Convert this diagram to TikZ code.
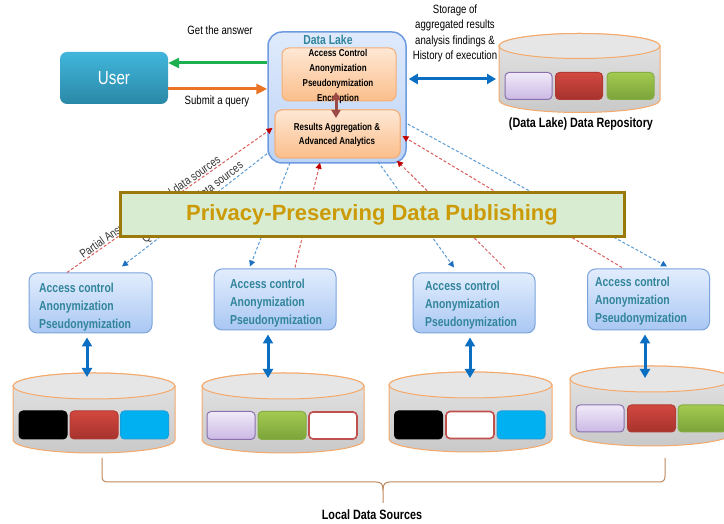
\documentclass[tikz,border=0pt]{standalone}
\usepackage{fontspec}
\setmainfont{Liberation Sans}
\newfontfamily\cf[FakeStretch=0.8]{Liberation Sans}
\usetikzlibrary{arrows.meta,calc}
\definecolor{uT}{HTML}{41B6DC}
\definecolor{uB}{HTML}{2A88A6}
\definecolor{dlT}{HTML}{DFEAFC}
\definecolor{dlB}{HTML}{BCD3F6}
\definecolor{dlD}{HTML}{6E9BE0}
\definecolor{lbT}{HTML}{E2EDFD}
\definecolor{lbB}{HTML}{A9C7F3}
\definecolor{lbD}{HTML}{7BA4DC}
\definecolor{orT}{HTML}{FEE8D6}
\definecolor{orB}{HTML}{FBBE8A}
\definecolor{orD}{HTML}{F5AE78}
\definecolor{teal}{HTML}{31859B}
\definecolor{cylT}{HTML}{E4E4E4}
\definecolor{cylB}{HTML}{C9C9C9}
\definecolor{cylTop}{HTML}{E6E6E6}
\definecolor{cylL}{HTML}{F4A96B}
\definecolor{redT}{HTML}{D2483F}
\definecolor{redB}{HTML}{A6332D}
\definecolor{redD}{HTML}{B03A33}
\definecolor{cyanF}{HTML}{00B0F0}
\definecolor{cyanD}{HTML}{1A9FDB}
\definecolor{lavT}{HTML}{F0EAF9}
\definecolor{lavB}{HTML}{CBB8E4}
\definecolor{lavD}{HTML}{8A70AD}
\definecolor{grT}{HTML}{A3CA50}
\definecolor{grB}{HTML}{7AA33A}
\definecolor{grD}{HTML}{86AD44}
\definecolor{whD}{HTML}{C0504D}
\definecolor{bannerF}{HTML}{D7ECD0}
\definecolor{bannerD}{HTML}{9B7A0B}
\definecolor{gold}{HTML}{CC9A06}
\definecolor{agreen}{HTML}{1DB050}
\definecolor{aorange}{HTML}{EB7324}
\definecolor{ablue}{HTML}{0A6FC2}
\definecolor{adred}{HTML}{9C4A45}
\definecolor{dashred}{HTML}{DB5C5C}
\definecolor{dashblue}{HTML}{5B9BD5}
\definecolor{tipred}{HTML}{C00000}
\definecolor{tipblue}{HTML}{1F6FC0}
\definecolor{braceC}{HTML}{C08A5E}
\newcommand\drawcyl[5]{%
  \path[draw=cylL, line width=1, top color=cylT, bottom color=cylB]
    ({#1-#2},#3) -- ({#1-#2},#4)
    arc[start angle=180, end angle=360, x radius=#2, y radius=#5]
    -- ({#1+#2},#3)
    arc[start angle=0, end angle=180, x radius=#2, y radius=#5] -- cycle;
  \path[draw=cylL, line width=1, fill=cylTop] (#1,#3) ellipse[x radius=#2, y radius=#5];
}
\tikzset{
  txt/.style={font=\cf\fontsize{12}{15.5}\selectfont, align=center, inner sep=1},
  boldtxt/.style={font=\cf\bfseries\fontsize{13.5}{16}\selectfont, inner sep=1},
  userbox/.style={rounded corners=7, minimum width=108, minimum height=52, top color=uT, bottom color=uB, text=white, font=\cf\fontsize{19}{22}\selectfont},
  dlbox/.style={rounded corners=14, minimum width=138, minimum height=131, top color=dlT, bottom color=dlB, draw=dlD, line width=1.5},
  orbox/.style={rounded corners=7, top color=orT, bottom color=orB, draw=orD, line width=1},
  intext/.style={font=\cf\bfseries\fontsize{10}{15}\selectfont, align=center, inner sep=0},
  lowbox/.style={rounded corners=8, minimum width=122, minimum height=61, top color=lbT, bottom color=lbB, draw=lbD, line width=1},
  lowtext/.style={font=\cf\bfseries\fontsize{13}{18}\selectfont, text=teal, align=left, inner sep=0, anchor=west},
  chip/.style={minimum width=47, minimum height=27, rounded corners=4, inner sep=0, line width=1},
  cblack/.style={chip, fill=black, draw=black},
  cred/.style={chip, top color=redT, bottom color=redB, draw=redD},
  ccyan/.style={chip, fill=cyanF, draw=cyanD},
  clav/.style={chip, top color=lavT, bottom color=lavB, draw=lavD},
  cgreen/.style={chip, top color=grT, bottom color=grB, draw=grD},
  cwhite/.style={chip, fill=white, draw=whD, line width=1.6},
  bigarrow/.style={line width=3, -{Triangle[length=11, width=10]}},
  bluedbl/.style={line width=3, draw=ablue, {Triangle[length=9, width=10]}-{Triangle[length=9, width=10]}},
  reddash/.style={draw=dashred, line width=1, dash pattern=on 3 off 2, -{Triangle[length=6, width=6, color=tipred]}},
  bluedash/.style={draw=dashblue, line width=1, dash pattern=on 3 off 2, -{Triangle[length=6, width=6, color=tipblue]}},
  bluedashr/.style={draw=dashblue, line width=1, dash pattern=on 3 off 2, {Triangle[length=6, width=6, color=tipblue]}-},
  banner/.style={minimum width=504, minimum height=44, fill=bannerF, draw=bannerD, line width=3, text=gold, font=\bfseries\fontsize{22}{26}\selectfont},
}
\begin{document}
\begin{tikzpicture}[x=1pt, y=1pt]
\useasboundingbox (0,0) rectangle (724,524);
\clip (0,0) rectangle (724,524);
\fill[white] (0,0) rectangle (724,524);

% user
\node[userbox] (user) at (114,446) {User};

% data lake
\node[dlbox] (dl) at (337,426.5) {};
\node[font=\cf\bfseries\fontsize{13}{15}\selectfont, text=teal, inner sep=0] (dlt) at (328,484) {Data Lake};

% lower boxes
\node[lowbox, minimum width=123, minimum height=60] (b1) at (90.5,221) {};
\node[lowbox] (b2) at (275,224.5) {};
\node[lowbox, minimum height=60] (b3) at (474,221) {};
\node[lowbox] (b4) at (648.5,224.5) {};
\node[lowtext] (b1t) at (39,216.5) {Access control\\Anonymization\\Pseudonymization};
\node[lowtext] (b2t) at (230,221) {Access control\\Anonymization\\Pseudonymization};
\node[lowtext] (b3t) at (425,218.5) {Access control\\Anonymization\\Pseudonymization};
\node[lowtext] (b4t) at (595,222.5) {Access control\\Anonymization\\Pseudonymization};

% inner boxes of the data lake (positions only, drawn below after dashed lines)
\node[orbox, minimum width=125, minimum height=48] (ib2) at (337.5,390) {};

% dashed connectors
\draw[reddash] ([xshift=-23.5]b1.north) -- ([shift={(-2,6)}]ib2.west)
  node[pos=0.42, sloped, above, txt, text=black!80] (lbl1) {Partial Answers from local data sources};
\draw[bluedashr] ([shift={(31.5,6)}]b1.north) -- ([shift={(2,-54.5)}]dl.west)
  node[pos=0.51, sloped, above, txt, text=black!80] (lbl2) {Queries to local data sources};
\draw[bluedash] ([shift={(-47,1)}]dl.south) -- ([shift={(-25,2)}]b2.north);
\draw[reddash] ([shift={(20,1)}]b2.north) -- ([shift={(-17,1)}]dl.south);
\draw[bluedash] ([shift={(41,2)}]dl.south) -- ([shift={(-20,5)}]b3.north);
\draw[reddash] ([shift={(31,4)}]b3.north) -- ([shift={(60,3)}]dl.south);
\draw[reddash] ([shift={(-26.5,1)}]b4.north) -- ([shift={(2,-2)}]ib2.east);
\draw[bluedash] ([shift={(1,-26.5)}]dl.east) -- ([shift={(18.5,2)}]b4.north);

% inner boxes
\node[orbox, minimum width=125, minimum height=48] (ib2b) at (337.5,390) {};
\node[orbox, minimum width=114, minimum height=53] (ib1) at (339,449.5) {};
\node[intext] (ib1t) at (338,448) {Access Control\\Anonymization\\Pseudonymization\\Encryption};
\node[intext, font=\cf\bfseries\fontsize{10}{14}\selectfont] (ib2t) at (337,389) {Results Aggregation \&\\Advanced Analytics};
\draw[line width=3, draw=adred, {Triangle[length=8, width=9]}-{Triangle[length=8, width=9]}]
  ([shift={(-3,-17.5)}]ib1.center) -- ([shift={(-1.5,16)}]ib2b.center);

% user arrows
\draw[bigarrow, draw=agreen] ([yshift=34.5]dl.west) -- ([yshift=15]user.east);
\draw[bigarrow, draw=aorange] ([yshift=-11]user.east) -- ([yshift=8.5]dl.west);
\node[txt] (lget) at (220,494) {Get the answer};
\node[txt] (lsub) at (217,423) {Submit a query};

% repository
\drawcyl{579.5}{80.5}{478}{424}{12.5}
\node[clav] (r1) at (528.5,438) {};
\node[cred] (r2) at (579,438) {};
\node[cgreen] (r3) at (630.5,438) {};
\coordinate (repoW) at (496,445);
\draw[bluedbl] ([shift={(2,18.5)}]dl.east) -- (repoW);
\node[txt] (lsto) at (455,490.5) {Storage of\\aggregated results\\analysis findings \&\\History of execution};
\node[boldtxt] (lrepo) at (581,400) {(Data Lake) Data Repository};

% banner
\node[banner] (ppdp) at (372,309) {Privacy-Preserving Data Publishing};

% local cylinders
\drawcyl{94}{81}{138}{84}{13}
\drawcyl{283}{81}{138}{84}{13}
\drawcyl{470.5}{81.5}{139}{85}{13}
\drawcyl{651}{81}{145}{91}{13}
\node[cblack, minimum width=48, minimum height=28] (c1a) at (43,99) {};
\node[cred, minimum width=48, minimum height=28] (c1b) at (94,99) {};
\node[ccyan, minimum width=48, minimum height=28] (c1c) at (144.5,99) {};
\node[clav, minimum width=48, minimum height=28] (c2a) at (231,98.5) {};
\node[cgreen, minimum width=48, minimum height=28] (c2b) at (282,98.5) {};
\node[cwhite, minimum width=48, minimum height=27] (c2c) at (333,98.5) {};
\node[cblack, minimum width=48, minimum height=28] (c3a) at (418.5,99) {};
\node[cwhite, minimum width=48, minimum height=27] (c3b) at (470,99) {};
\node[ccyan, minimum width=48, minimum height=28] (c3c) at (521,99) {};
\node[clav, minimum width=48, minimum height=27] (c4a) at (600,105.5) {};
\node[cred, minimum width=48, minimum height=27] (c4b) at (651.5,105.5) {};
\node[cgreen, minimum width=48, minimum height=27] (c4c) at (702,105.5) {};

% vertical arrows
\coordinate (c1t) at (87,147);
\coordinate (c2t) at (268,146);
\coordinate (c3t) at (470,146);
\coordinate (c4t) at (645,146);
\draw[bluedbl] ([shift={(-3.5,-4)}]b1.south) -- (c1t);
\draw[bluedbl] ([shift={(-7,-4)}]b2.south) -- (c2t);
\draw[bluedbl] ([shift={(-4,-4)}]b3.south) -- (c3t);
\draw[bluedbl] ([shift={(-3.5,-4)}]b4.south) -- (c4t);

% brace
\draw[braceC, line width=1]
  (102,66) -- (102,48) .. controls (102,43) and (104,42) .. (109,42) -- (376,42)
  .. controls (381,42) and (383,40) .. (383,34) -- (383,21);
\draw[braceC, line width=1]
  (383,34) .. controls (383,40) and (385,42) .. (390,42) -- (658,42)
  .. controls (663,42) and (665,43) .. (665,48) -- (665,66);
\node[boldtxt] (lloc) at (372,9) {Local Data Sources};
\end{tikzpicture}
\end{document}
